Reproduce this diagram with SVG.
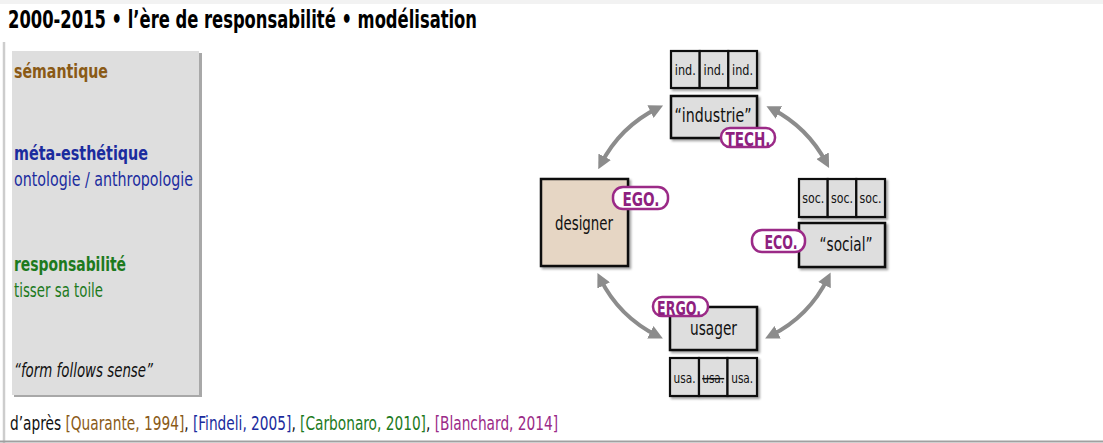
<svg xmlns="http://www.w3.org/2000/svg" width="1103" height="443" viewBox="0 0 1103 443">
<style>
text{font-family:"Liberation Sans Narrow","DejaVu Sans Condensed","Open Sans",sans-serif;font-stretch:condensed}
.b{font-weight:bold}
.box{fill:#dedede;stroke:#111;stroke-width:2.5}
.cell{fill:#dedede;stroke:#111;stroke-width:2.2}
.lbl{font-size:20px;fill:#111;text-anchor:middle}
.sm{font-size:14.5px;fill:#111;text-anchor:middle}
.pill{fill:#fff;stroke:#9b2a87;stroke-width:2.5}
.pt{font-size:19.5px;font-weight:bold;fill:#8e1f7f;text-anchor:middle}
.arr{fill:none;stroke:#8c8c8c;stroke-width:4}
.ft{font-size:19px;fill:#111}
.brown{fill:#8a5a16}.blue{fill:#1b2c9e}.green{fill:#1d7a1d}.purple{fill:#9b2a87}
</style>
<defs>
<marker id="ah" viewBox="0 0 14 14" markerWidth="14" markerHeight="14" refX="8" refY="7" orient="auto-start-reverse" markerUnits="userSpaceOnUse">
<path d="M0,0 L14,7 L0,14 z" fill="#8c8c8c"/>
</marker>
<filter id="sh" x="-10%" y="-10%" width="130%" height="130%">
<feDropShadow dx="2" dy="2" stdDeviation="1.2" flood-color="#000" flood-opacity="0.35"/>
</filter>
</defs>
<rect width="1103" height="443" fill="#fff"/>
<rect x="0" y="0" width="1103" height="4" fill="#f2f2f2"/>
<line x1="4" y1="42" x2="4" y2="443" stroke="#cdcdcd" stroke-width="2.5"/>
<line x1="0" y1="441.5" x2="1103" y2="441.5" stroke="#a0a0a0" stroke-width="2"/>

<text id="title" class="b" x="8" y="28" font-size="24" fill="#000" textLength="469" lengthAdjust="spacingAndGlyphs">2000-2015 • l’ère de responsabilité • modélisation</text>

<g id="panel">
<rect x="14" y="53" width="188" height="344" fill="#a8a8a8"/>
<rect x="12" y="51" width="187" height="344" fill="#dedede"/>
<text class="b brown" x="14" y="78" font-size="20" textLength="94" lengthAdjust="spacingAndGlyphs">sémantique</text>
<text class="b blue" x="14" y="160" font-size="20" textLength="134" lengthAdjust="spacingAndGlyphs">méta-esthétique</text>
<text class="blue" x="14" y="186" font-size="20" textLength="179" lengthAdjust="spacingAndGlyphs">ontologie / anthropologie</text>
<text class="b green" x="14" y="271" font-size="20" textLength="112" lengthAdjust="spacingAndGlyphs">responsabilité</text>
<text class="green" x="14" y="297" font-size="20" textLength="89" lengthAdjust="spacingAndGlyphs">tisser sa toile</text>
<text x="14" y="377" font-size="20" font-style="italic" fill="#111" textLength="139" lengthAdjust="spacingAndGlyphs">“form follows sense”</text>
</g>

<g id="connectors">
<path class="arr" d="M601.0,163.9 A127,127 0 0 1 657.7,108.1" marker-start="url(#ah)" marker-end="url(#ah)"/>
<path class="arr" d="M771.8,108.9 A127,127 0 0 1 826.3,162.8" marker-start="url(#ah)" marker-end="url(#ah)"/>
<path class="arr" d="M828.0,277.9 A127,127 0 0 1 770.5,335.8" marker-start="url(#ah)" marker-end="url(#ah)"/>
<path class="arr" d="M657.5,335.8 A127,127 0 0 1 600.1,278.3" marker-start="url(#ah)" marker-end="url(#ah)"/>
</g>

<g id="industrie">
<g filter="url(#sh)">
<rect class="cell" x="671" y="51" width="28.7" height="37"/>
<rect class="cell" x="699.7" y="51" width="28.6" height="37"/>
<rect class="cell" x="728.3" y="51" width="28.7" height="37"/>
<rect class="box" x="671" y="96" width="86" height="42"/>
</g>
<text class="sm" x="685.3" y="75" textLength="21" lengthAdjust="spacingAndGlyphs">ind.</text>
<text class="sm" x="714" y="75" textLength="21" lengthAdjust="spacingAndGlyphs">ind.</text>
<text class="sm" x="742.6" y="75" textLength="21" lengthAdjust="spacingAndGlyphs">ind.</text>
<text class="lbl" x="713" y="122" textLength="77" lengthAdjust="spacingAndGlyphs">“industrie”</text>
<rect class="pill" x="721" y="128" width="54" height="19" rx="9"/>
<text class="pt" x="748" y="145.5" font-size="18" textLength="45" lengthAdjust="spacingAndGlyphs">TECH.</text>
</g>

<g id="designer">
<rect x="541" y="179" width="87" height="87" fill="#e6d6c4" stroke="#111" stroke-width="2.5" filter="url(#sh)"/>
<text class="lbl" x="584" y="230" textLength="58" lengthAdjust="spacingAndGlyphs">designer</text>
<rect class="pill" x="613" y="187" width="55" height="22" rx="10"/>
<text class="pt" x="641" y="206" textLength="37" lengthAdjust="spacingAndGlyphs">EGO.</text>
</g>

<g id="social">
<g filter="url(#sh)">
<rect class="cell" x="799" y="179" width="28.7" height="38"/>
<rect class="cell" x="827.7" y="179" width="28.6" height="38"/>
<rect class="cell" x="856.3" y="179" width="28.7" height="38"/>
<rect class="box" x="799" y="223" width="86" height="44"/>
</g>
<text class="sm" x="813.3" y="203" textLength="22" lengthAdjust="spacingAndGlyphs">soc.</text>
<text class="sm" x="842" y="203" textLength="22" lengthAdjust="spacingAndGlyphs">soc.</text>
<text class="sm" x="870.6" y="203" textLength="22" lengthAdjust="spacingAndGlyphs">soc.</text>
<text class="lbl" x="846" y="251" textLength="53" lengthAdjust="spacingAndGlyphs">“social”</text>
<rect class="pill" x="752" y="230" width="53" height="22" rx="10"/>
<text class="pt" x="781" y="249" textLength="33" lengthAdjust="spacingAndGlyphs">ECO.</text>
</g>

<g id="usager">
<g filter="url(#sh)">
<rect class="box" x="670" y="307" width="87" height="43"/>
<rect class="cell" x="670" y="358" width="29" height="38"/>
<rect class="cell" x="699" y="358" width="28.5" height="38"/>
<rect class="cell" x="727.5" y="358" width="29.5" height="38"/>
</g>
<text class="lbl" x="713.5" y="335" textLength="47" lengthAdjust="spacingAndGlyphs">usager</text>
<text class="sm" x="684.5" y="383" textLength="22" lengthAdjust="spacingAndGlyphs">usa.</text>
<text class="sm" x="713.2" y="383" text-decoration="line-through" textLength="22" lengthAdjust="spacingAndGlyphs">usa.</text>
<text class="sm" x="742.2" y="383" textLength="22" lengthAdjust="spacingAndGlyphs">usa.</text>
<rect class="pill" x="653" y="297" width="55" height="19" rx="9"/>
<text class="pt" x="679" y="315" textLength="44" lengthAdjust="spacingAndGlyphs">ERGO.</text>
</g>

<text id="footer" class="ft" transform="translate(10,430) scale(0.7,1)" x="0" y="0" textLength="783" lengthAdjust="spacingAndGlyphs">d’après <tspan class="brown">[Quarante, 1994]</tspan>, <tspan class="blue">[Findeli, 2005]</tspan>, <tspan class="green">[Carbonaro, 2010]</tspan>, <tspan class="purple">[Blanchard, 2014]</tspan></text>
</svg>
